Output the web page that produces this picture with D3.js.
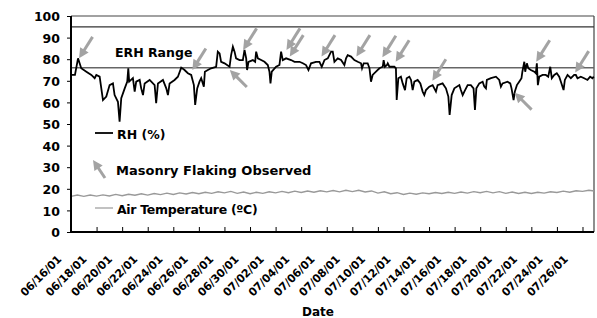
<!DOCTYPE html>
<html><head><meta charset="utf-8">
<script src="https://cdn.jsdelivr.net/npm/d3@7"></script>
<style>
html,body{margin:0;padding:0;background:#fff;}
text{font-family:"DejaVu Sans",sans-serif;font-weight:bold;fill:#000;}
</style></head><body>
<svg id="c" width="597" height="318"></svg>
<script>
// ---- data ----
const startDate = new Date(2001, 5, 16);
const endDay = 40.9;
const tickLabels = ["06/16/01","06/18/01","06/20/01","06/22/01","06/24/01","06/26/01","06/28/01","06/30/01","07/02/01","07/04/01","07/06/01","07/08/01","07/10/01","07/12/01","07/14/01","07/16/01","07/18/01","07/20/01","07/22/01","07/24/01","07/26/01"];
const yTicks = [0,10,20,30,40,50,60,70,80,90,100];
const erhLow = 76, erhHigh = 95;

const rhDay = [0.05,0.31,0.55,0.80,1.20,1.59,1.85,1.98,2.24,2.50,
2.76,3.02,3.28,3.41,3.67,3.80,3.93,4.20,4.40,4.48,
4.55,4.84,4.98,5.10,5.37,5.49,5.63,5.76,6.15,6.54,
6.66,6.80,7.19,7.45,7.58,7.71,8.10,8.36,8.62,8.88,
9.14,9.40,9.61,9.71,9.87,10.05,10.18,10.39,10.47,10.70,
10.96,11.35,11.48,11.62,11.74,12.01,12.40,12.52,12.66,12.79,
12.91,13.18,13.44,13.57,13.70,13.77,13.88,14.22,14.40,14.48,
14.61,14.87,15.13,15.39,15.52,15.60,15.70,16.04,16.30,16.43,
16.56,16.82,17.21,17.48,17.87,18.13,18.38,18.57,18.77,19.16,
19.43,19.61,19.82,20.08,20.34,20.47,20.60,20.86,21.12,21.38,
21.51,21.64,21.90,22.16,22.42,22.68,22.76,22.89,23.20,23.34,
23.46,23.59,23.85,24.12,24.38,24.45,24.55,24.71,24.77,24.90,
25.29,25.41,25.47,25.60,25.80,25.94,26.12,26.25,26.46,26.59,
26.72,26.85,27.11,27.32,27.50,27.63,27.76,28.02,28.28,28.41,
28.54,28.67,29.06,29.32,29.51,29.61,29.77,29.98,30.37,30.49,
30.63,30.76,31.02,31.27,31.48,31.59,31.70,31.93,32.19,32.32,
32.45,32.52,32.84,33.23,33.49,33.62,33.75,34.14,34.35,34.45,
34.61,34.71,34.87,35.05,35.23,35.30,35.45,35.52,35.65,35.76,
35.96,36.23,36.35,36.43,36.51,36.62,36.88,37.13,37.32,37.48,
37.60,37.79,37.99,38.18,38.31,38.52,38.62,38.83,39.09,39.35,
39.48,39.61,39.87,40.13,40.39,40.60,40.78,40.88];
const rhValue = [72.7,72.7,80.4,75.8,74.2,72.7,71.2,72.7,71.9,61.1,
62.7,68.0,68.8,63.4,60.3,51.1,61.9,66.5,69.6,75.8,
69.6,71.2,65.0,69.6,70.4,66.5,63.4,68.8,70.4,68.0,
59.6,68.8,70.4,66.5,63.4,68.8,70.4,71.9,76.1,75.0,
73.5,72.7,68.0,58.8,66.5,69.6,71.2,67.3,74.2,75.0,
75.8,76.5,83.5,82.7,78.8,78.1,76.5,81.9,85.8,83.5,
80.4,79.6,79.6,84.3,80.4,75.0,78.8,79.6,78.8,83.5,
80.4,79.6,78.8,77.3,74.2,68.8,74.2,76.5,77.3,83.5,
79.6,80.4,79.6,78.8,78.8,78.1,77.3,75.0,78.1,78.8,
78.8,76.5,79.6,80.4,83.5,83.5,78.8,80.4,79.6,77.3,
80.4,81.9,81.2,79.6,78.8,78.1,75.8,78.1,78.1,75.8,
69.6,72.7,74.2,75.8,76.5,79.6,76.5,77.3,78.1,76.5,
76.5,75.8,61.1,71.2,71.9,68.8,65.7,71.2,71.9,70.4,
65.7,69.6,70.4,68.8,65.0,63.4,65.7,67.3,68.0,66.5,
65.0,68.0,68.8,66.5,62.7,54.2,63.4,66.5,68.0,65.7,
63.4,65.0,68.0,68.0,66.5,56.5,66.5,68.8,69.6,67.3,
66.5,70.4,71.2,71.9,70.4,67.3,68.8,69.6,68.8,66.5,
61.1,65.0,68.0,69.6,71.2,74.2,78.8,74.2,78.1,75.8,
75.0,74.2,73.5,78.1,68.0,71.9,72.7,72.7,71.9,76.5,
71.2,72.7,73.5,71.9,69.6,65.7,70.4,72.7,71.2,72.7,
72.7,71.2,71.9,71.2,70.4,71.9,71.2,71.9];

const tempDay = [0,0.5,1,1.5,2,2.5,3,3.5,4,4.5,5,5.5,6,6.5,7,7.5,8,8.5,9,9.5,
10,10.5,11,11.5,12,12.5,13,13.5,14,14.5,15,15.5,16,16.5,17,17.5,18,18.5,19,19.5,
20,20.5,21,21.5,22,22.5,23,23.5,24,24.5,25,25.5,26,26.5,27,27.5,28,28.5,29,29.5,
30,30.5,31,31.5,32,32.5,33,33.5,34,34.5,35,35.5,36,36.5,37,37.5,38,38.5,39,39.5,
40,40.5,40.9];
const tempValue = [16.5,17.1,16.5,17.1,16.6,17.2,16.7,17.4,16.8,17.5,17.0,17.7,17.1,17.8,17.3,18.0,17.4,18.1,17.6,18.3,
17.7,18.4,17.9,18.6,18.1,18.8,17.9,18.5,17.7,18.4,17.9,18.6,18.1,18.8,18.2,18.9,18.3,19.0,18.4,19.1,
18.6,19.2,18.6,19.3,18.7,19.3,18.5,19.0,18.0,18.6,17.7,18.2,17.4,18.0,17.5,18.1,17.7,18.3,17.8,18.4,
17.9,18.5,18.0,18.7,18.2,18.8,18.1,18.7,17.9,18.5,17.8,18.4,17.8,18.4,18.0,18.6,18.3,18.9,18.4,19.1,
18.8,19.3,19.0];

// arrows: tip position in data units, direction of approach
const arrowDay = [0.63,9.49,12.42,13.46,16.85,17.11,19.59,22.32,24.35,25.39,28.26,34.69,36.38,39.43];
const arrowValue = [80.4,75.0,75.0,84.3,84.3,81.2,81.2,81.2,80.9,78.8,70.0,64.5,78.8,73.8];
const arrowFrom = ["above","above","below","above","above","above","above","above","above","above","above","below","above","above"];

// ---- drawing ----
const svg = d3.select("#c");
svg.append("rect").attr("width",597).attr("height",318).attr("fill","#fff");
const L = 71, R = 594, T = 16, B = 232;
const toDate = d => new Date(startDate.getTime() + d*864e5);
const x = d3.scaleTime().domain([startDate, toDate(endDay)]).range([L, R]);
const y = d3.scaleLinear().domain([0,100]).range([B, T]);

// frame
svg.append("line").attr("x1",L).attr("x2",R).attr("y1",T).attr("y2",T).attr("stroke","#444").attr("stroke-width",1.2);
svg.append("line").attr("x1",R).attr("x2",R).attr("y1",T).attr("y2",B).attr("stroke","#444").attr("stroke-width",1.2);

// ERH lines
svg.append("line").attr("x1",L).attr("x2",R).attr("y1",y(erhHigh)).attr("y2",y(erhHigh)).attr("stroke","#333").attr("stroke-width",1.3);
svg.append("line").attr("x1",L).attr("x2",R).attr("y1",y(erhLow)).attr("y2",y(erhLow)).attr("stroke","#666").attr("stroke-width",1.5);

// temperature
const temp = tempDay.map((d,i)=>({t:toDate(d), v:tempValue[i]}));
svg.append("path").datum(temp).attr("fill","none").attr("stroke","#999").attr("stroke-width",1.4)
  .attr("d", d3.line().x(d=>x(d.t)).y(d=>y(d.v)));

// RH
const rh = rhDay.map((d,i)=>({t:toDate(d), v:rhValue[i]}));
svg.append("path").datum(rh).attr("fill","none").attr("stroke","#000").attr("stroke-width",1.8)
  .attr("stroke-linejoin","miter").attr("d", d3.line().x(d=>x(d.t)).y(d=>y(d.v)));

// arrows
const arrowColor = "#a3a3a3";
function drawArrow(g, tx, ty, dx, dy){
  const len = Math.hypot(dx,dy), ux = -dx/len, uy = -dy/len; // unit vector tail->tip
  const hx = tx - ux*10, hy = ty - uy*10;
  g.append("line").attr("x1",tx+dx).attr("y1",ty+dy).attr("x2",hx+ux*1).attr("y2",hy+uy*1)
    .attr("stroke",arrowColor).attr("stroke-width",3);
  const px = -uy, py = ux;
  g.append("path").attr("fill",arrowColor)
    .attr("d",`M${tx},${ty}L${hx+px*5},${hy+py*5}L${hx-px*5},${hy-py*5}Z`);
}
const ag = svg.append("g");
arrowDay.forEach((d,i)=>{
  const tx = x(toDate(d)), ty = y(arrowValue[i]);
  if(arrowFrom[i]==="above") drawArrow(ag, tx, ty, 13.5, -21.5);
  else drawArrow(ag, tx, ty, 17, 17);
});

// axes
const ticks = d3.timeDay.range(startDate, toDate(endDay), 2);
const xAxis = svg.append("g").attr("transform",`translate(0,${B})`)
  .call(d3.axisBottom(x).tickValues(ticks).tickSize(-5).tickFormat(""));
xAxis.select(".domain").attr("stroke","#000").attr("stroke-width",2).attr("d",`M${L},0H${R}`);
xAxis.selectAll(".tick line").attr("stroke","#000").attr("stroke-width",1);

const labelX = d3.scaleLinear().domain([0, ticks.length-1]).range([x(ticks[0])-9, x(ticks[ticks.length-1])-14]);
svg.append("g").selectAll("text").data(tickLabels).join("text")
  .attr("transform",(d,i)=>`translate(${labelX(i)},${260}) rotate(-45)`)
  .attr("text-anchor","end").attr("font-size",11).attr("letter-spacing",-0.2).text(d=>d);

const yAxis = svg.append("g").attr("transform",`translate(${L},0)`)
  .call(d3.axisLeft(y).tickValues(yTicks).tickSize(4).tickPadding(7));
yAxis.select(".domain").attr("stroke","#000").attr("stroke-width",2).attr("d",`M0,${T}V${B}`);
yAxis.selectAll(".tick line").attr("stroke","#000");
yAxis.selectAll(".tick text").attr("font-size",12.5).attr("font-family",null).attr("dy","0.38em");

// texts
svg.append("text").attr("x",115).attr("y",57).attr("font-size",12.5).text("ERH Range");
svg.append("text").attr("x",318).attr("y",316).attr("text-anchor","middle").attr("font-size",12).text("Date");

// legend
svg.append("line").attr("x1",95).attr("x2",113).attr("y1",133).attr("y2",133).attr("stroke","#000").attr("stroke-width",1.8);
svg.append("text").attr("x",117).attr("y",139).attr("font-size",12.5).text("RH (%)");
drawArrow(svg, 93, 160, 12, 18);
svg.append("text").attr("x",116).attr("y",175).attr("font-size",13).text("Masonry Flaking Observed");
svg.append("line").attr("x1",95).attr("x2",113).attr("y1",208).attr("y2",208).attr("stroke","#999").attr("stroke-width",1.2);
svg.append("text").attr("x",117).attr("y",214).attr("font-size",12.5).attr("letter-spacing",-0.3).text("Air Temperature (ºC)");
</script>
</body></html>
